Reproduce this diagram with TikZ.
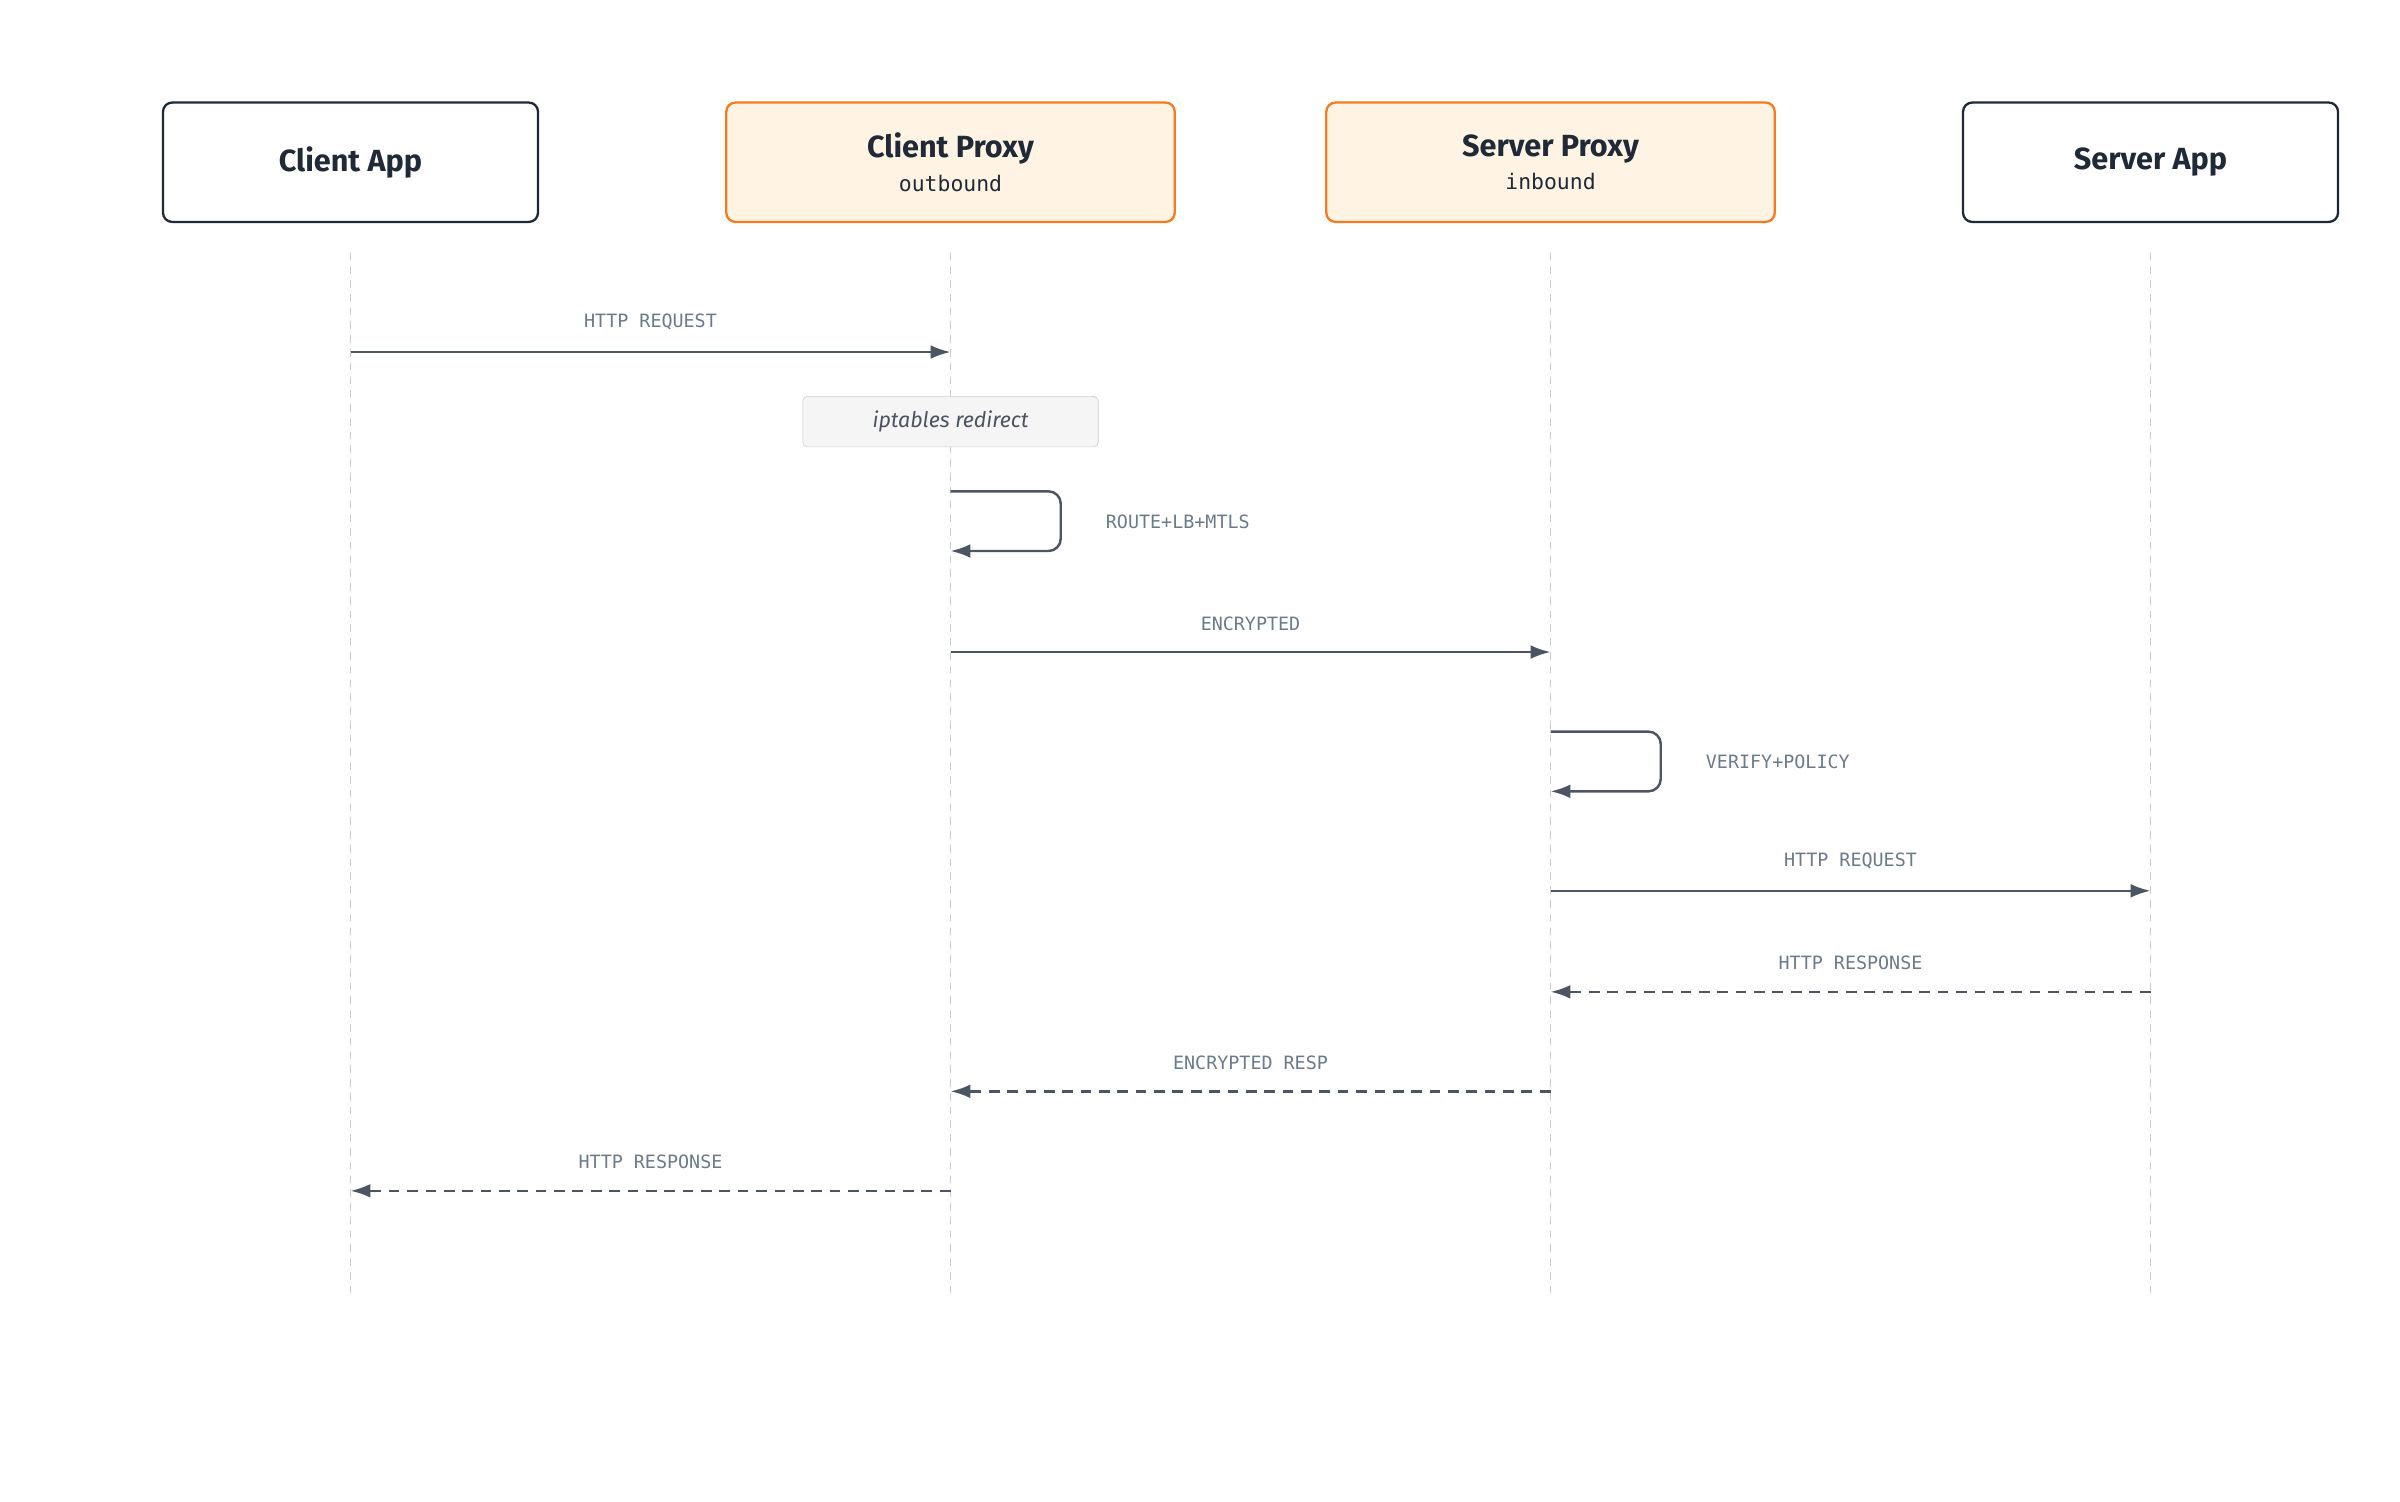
\documentclass[tikz,border=0pt]{standalone}
\usepackage{fontspec}
\setmainfont{Fira Sans}
\newfontfamily\monofont{DejaVu Sans Mono}
\usetikzlibrary{arrows.meta, positioning}
\definecolor{ink}{HTML}{1F2937}
\definecolor{accent}{HTML}{F47B20}
\definecolor{accentfill}{HTML}{FFF4E3}
\definecolor{wire}{HTML}{4B5563}
\definecolor{lbl}{HTML}{6B7A8C}
\definecolor{life}{HTML}{C8CCD2}
\tikzset{
  actor/.style={draw=ink, line width=1.5pt, rounded corners=6pt, minimum width=245pt, minimum height=78pt, align=center, font=\fontsize{20}{24}\selectfont\bfseries, text=ink},
  proxy/.style={actor, draw=accent, fill=accentfill, minimum width=293pt},
  lifeline/.style={draw=life, line width=1pt, dash pattern=on 5pt off 4pt},
  msg/.style={draw=wire, line width=1.6pt, -{Latex[length=13pt,width=9pt]}},
  reply/.style={msg, dash pattern=on 7pt off 5pt},
  msglabel/.style={font=\monofont\fontsize{12}{14}\selectfont, text=lbl},
  note/.style={draw=life, fill=gray!8, rounded corners=3pt, minimum width=193pt, minimum height=33pt, font=\itshape\fontsize{14}{16}\selectfont, text=ink!80}
}
\begin{document}
\begin{tikzpicture}[x=1pt, y=-1pt]
\useasboundingbox (0,0) rectangle (1568,981);

% ACTORS
\node[actor] (CA) at (229,106) {Client App};
\node[proxy] (CP) at (621,106) {Client Proxy\\[-2pt]{\monofont\mdseries\fontsize{14}{16}\selectfont outbound}};
\node[proxy] (SP) at (1013,106) {Server Proxy\\[-2pt]{\monofont\mdseries\fontsize{14}{16}\selectfont inbound}};
\node[actor] (SA) at (1405,106) {Server App};

% LIFELINES
\foreach \a/\x in {ca/229, cp/621, sp/1013, sa/1405} {
  \coordinate (\a top) at (\x,165);
  \coordinate (\a bot) at (\x,845);
  \draw[lifeline] (\a top) -- (\a bot);
}

% MESSAGE ANCHORS
\foreach \a/\x in {ca/229, cp/621, sp/1013, sa/1405} {
  \foreach \n/\y in {1/230, 2/426, 3/582, 4/648, 5/713, 6/778} {
    \coordinate (\a\n) at (\x,\y);
  }
}

% MESSAGES
\draw[msg] (ca1) -- node[msglabel, above=10pt] {HTTP REQUEST} (cp1);
\node[note] (ipt) at (621,275.5) {iptables redirect};
\coordinate (l1a) at (621,321); \coordinate (l1b) at (621,360);
\draw[msg, rounded corners=8pt] (l1a) -- (693,321) -- (693,360) -- (l1b);
\node[msglabel, anchor=west] (l1) at (719,341) {ROUTE+LB+MTLS};
\draw[msg] (cp2) -- node[msglabel, above=10pt] {ENCRYPTED} (sp2);
\coordinate (l2a) at (1013,478); \coordinate (l2b) at (1013,517);
\draw[msg, rounded corners=8pt] (l2a) -- (1085,478) -- (1085,517) -- (l2b);
\node[msglabel, anchor=west] (l2) at (1111,498) {VERIFY+POLICY};
\draw[msg] (sp3) -- node[msglabel, above=10pt] {HTTP REQUEST} (sa3);
\draw[reply] (sa4) -- node[msglabel, above=10pt] {HTTP RESPONSE} (sp4);
\draw[reply] (sp5) -- node[msglabel, above=10pt] {ENCRYPTED RESP} (cp5);
\draw[reply] (cp6) -- node[msglabel, above=10pt] {HTTP RESPONSE} (ca6);
\end{tikzpicture}
\end{document}
